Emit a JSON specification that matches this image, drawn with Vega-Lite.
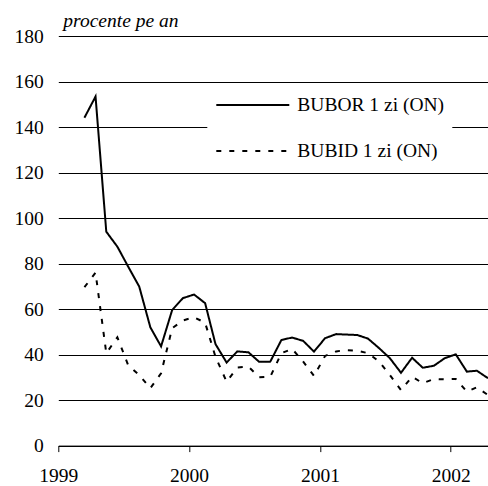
{
  "$schema": "https://vega.github.io/schema/vega-lite/v6.json",
  "width": 429.7,
  "height": 409.6,
  "autosize": "none",
  "padding": {"left": 58.3, "top": 36, "right": 0, "bottom": 40.4},
  "background": "white",
  "title": {
    "text": "procente pe an",
    "anchor": "start",
    "frame": "group",
    "font": "Liberation Serif",
    "fontSize": 19.5,
    "fontStyle": "italic",
    "fontWeight": "normal",
    "color": "black",
    "baseline": "alphabetic",
    "offset": -20.5,
    "dx": 5
  },
  "config": {
    "view": {"stroke": null},
    "font": "Liberation Serif"
  },
  "data": {
    "values": [
      {"date": "1999-03-15", "series": "BUBOR 1 zi (ON)", "value": 144.1},
      {"date": "1999-04-15", "series": "BUBOR 1 zi (ON)", "value": 153.4},
      {"date": "1999-05-15", "series": "BUBOR 1 zi (ON)", "value": 94.0},
      {"date": "1999-06-15", "series": "BUBOR 1 zi (ON)", "value": 87.4},
      {"date": "1999-07-15", "series": "BUBOR 1 zi (ON)", "value": 78.7},
      {"date": "1999-08-15", "series": "BUBOR 1 zi (ON)", "value": 69.9},
      {"date": "1999-09-15", "series": "BUBOR 1 zi (ON)", "value": 52.0},
      {"date": "1999-10-15", "series": "BUBOR 1 zi (ON)", "value": 43.6},
      {"date": "1999-11-15", "series": "BUBOR 1 zi (ON)", "value": 59.6},
      {"date": "1999-12-15", "series": "BUBOR 1 zi (ON)", "value": 64.8},
      {"date": "2000-01-15", "series": "BUBOR 1 zi (ON)", "value": 66.4},
      {"date": "2000-02-15", "series": "BUBOR 1 zi (ON)", "value": 62.6},
      {"date": "2000-03-15", "series": "BUBOR 1 zi (ON)", "value": 44.6},
      {"date": "2000-04-15", "series": "BUBOR 1 zi (ON)", "value": 36.5},
      {"date": "2000-05-15", "series": "BUBOR 1 zi (ON)", "value": 41.4},
      {"date": "2000-06-15", "series": "BUBOR 1 zi (ON)", "value": 41.0},
      {"date": "2000-07-15", "series": "BUBOR 1 zi (ON)", "value": 36.8},
      {"date": "2000-08-15", "series": "BUBOR 1 zi (ON)", "value": 36.9},
      {"date": "2000-09-15", "series": "BUBOR 1 zi (ON)", "value": 46.4},
      {"date": "2000-10-15", "series": "BUBOR 1 zi (ON)", "value": 47.5},
      {"date": "2000-11-15", "series": "BUBOR 1 zi (ON)", "value": 46.0},
      {"date": "2000-12-15", "series": "BUBOR 1 zi (ON)", "value": 41.3},
      {"date": "2001-01-15", "series": "BUBOR 1 zi (ON)", "value": 47.2},
      {"date": "2001-02-15", "series": "BUBOR 1 zi (ON)", "value": 49.0},
      {"date": "2001-03-15", "series": "BUBOR 1 zi (ON)", "value": 48.8},
      {"date": "2001-04-15", "series": "BUBOR 1 zi (ON)", "value": 48.6},
      {"date": "2001-05-15", "series": "BUBOR 1 zi (ON)", "value": 47.0},
      {"date": "2001-06-15", "series": "BUBOR 1 zi (ON)", "value": 42.8},
      {"date": "2001-07-15", "series": "BUBOR 1 zi (ON)", "value": 38.4},
      {"date": "2001-08-15", "series": "BUBOR 1 zi (ON)", "value": 32.0},
      {"date": "2001-09-15", "series": "BUBOR 1 zi (ON)", "value": 38.6},
      {"date": "2001-10-15", "series": "BUBOR 1 zi (ON)", "value": 34.2},
      {"date": "2001-11-15", "series": "BUBOR 1 zi (ON)", "value": 35.1},
      {"date": "2001-12-15", "series": "BUBOR 1 zi (ON)", "value": 38.4},
      {"date": "2002-01-15", "series": "BUBOR 1 zi (ON)", "value": 40.1},
      {"date": "2002-02-15", "series": "BUBOR 1 zi (ON)", "value": 32.5},
      {"date": "2002-03-15", "series": "BUBOR 1 zi (ON)", "value": 32.9},
      {"date": "2002-04-15", "series": "BUBOR 1 zi (ON)", "value": 29.6},
      {"date": "1999-03-15", "series": "BUBID 1 zi (ON)", "value": 69.6},
      {"date": "1999-04-15", "series": "BUBID 1 zi (ON)", "value": 76.0},
      {"date": "1999-05-15", "series": "BUBID 1 zi (ON)", "value": 40.6},
      {"date": "1999-06-15", "series": "BUBID 1 zi (ON)", "value": 47.6},
      {"date": "1999-07-15", "series": "BUBID 1 zi (ON)", "value": 35.4},
      {"date": "1999-08-15", "series": "BUBID 1 zi (ON)", "value": 31.0},
      {"date": "1999-09-15", "series": "BUBID 1 zi (ON)", "value": 25.2},
      {"date": "1999-10-15", "series": "BUBID 1 zi (ON)", "value": 31.8},
      {"date": "1999-11-15", "series": "BUBID 1 zi (ON)", "value": 51.6},
      {"date": "1999-12-15", "series": "BUBID 1 zi (ON)", "value": 55.0},
      {"date": "2000-01-15", "series": "BUBID 1 zi (ON)", "value": 56.4},
      {"date": "2000-02-15", "series": "BUBID 1 zi (ON)", "value": 54.0},
      {"date": "2000-03-15", "series": "BUBID 1 zi (ON)", "value": 39.0},
      {"date": "2000-04-15", "series": "BUBID 1 zi (ON)", "value": 28.1},
      {"date": "2000-05-15", "series": "BUBID 1 zi (ON)", "value": 34.3},
      {"date": "2000-06-15", "series": "BUBID 1 zi (ON)", "value": 34.7},
      {"date": "2000-07-15", "series": "BUBID 1 zi (ON)", "value": 30.0},
      {"date": "2000-08-15", "series": "BUBID 1 zi (ON)", "value": 30.3},
      {"date": "2000-09-15", "series": "BUBID 1 zi (ON)", "value": 40.6},
      {"date": "2000-10-15", "series": "BUBID 1 zi (ON)", "value": 42.5},
      {"date": "2000-11-15", "series": "BUBID 1 zi (ON)", "value": 36.9},
      {"date": "2000-12-15", "series": "BUBID 1 zi (ON)", "value": 30.6},
      {"date": "2001-01-15", "series": "BUBID 1 zi (ON)", "value": 39.4},
      {"date": "2001-02-15", "series": "BUBID 1 zi (ON)", "value": 41.4},
      {"date": "2001-03-15", "series": "BUBID 1 zi (ON)", "value": 42.0},
      {"date": "2001-04-15", "series": "BUBID 1 zi (ON)", "value": 41.7},
      {"date": "2001-05-15", "series": "BUBID 1 zi (ON)", "value": 40.6},
      {"date": "2001-06-15", "series": "BUBID 1 zi (ON)", "value": 36.9},
      {"date": "2001-07-15", "series": "BUBID 1 zi (ON)", "value": 31.0},
      {"date": "2001-08-15", "series": "BUBID 1 zi (ON)", "value": 24.4},
      {"date": "2001-09-15", "series": "BUBID 1 zi (ON)", "value": 30.3},
      {"date": "2001-10-15", "series": "BUBID 1 zi (ON)", "value": 27.4},
      {"date": "2001-11-15", "series": "BUBID 1 zi (ON)", "value": 29.3},
      {"date": "2001-12-15", "series": "BUBID 1 zi (ON)", "value": 29.1},
      {"date": "2002-01-15", "series": "BUBID 1 zi (ON)", "value": 29.3},
      {"date": "2002-02-15", "series": "BUBID 1 zi (ON)", "value": 23.7},
      {"date": "2002-03-15", "series": "BUBID 1 zi (ON)", "value": 25.6},
      {"date": "2002-04-15", "series": "BUBID 1 zi (ON)", "value": 22.2}
    ]
  },
  "mark": {"type": "line", "color": "black", "strokeWidth": 2, "clip": true},
  "encoding": {
    "x": {
      "field": "date",
      "type": "temporal",
      "scale": {
        "type": "utc",
        "domain": [
          {"year": 1999, "month": 1, "date": 1, "utc": true},
          {"year": 2002, "month": 4, "date": 15, "utc": true}
        ]
      },
      "axis": {
        "title": null,
        "values": [
          {"year": 1999, "month": 1, "date": 1, "utc": true},
          {"year": 2000, "month": 1, "date": 1, "utc": true},
          {"year": 2001, "month": 1, "date": 1, "utc": true},
          {"year": 2002, "month": 1, "date": 1, "utc": true}
        ],
        "format": "%Y",
        "grid": false,
        "domainColor": "black",
        "domainWidth": 1,
        "tickColor": "black",
        "tickWidth": 1,
        "tickSize": 6,
        "labelFont": "Liberation Serif",
        "labelFontSize": 19.5,
        "labelColor": "black",
        "labelPadding": 15,
        "labelFlush": false,
        "labelOverlap": false
      }
    },
    "y": {
      "field": "value",
      "type": "quantitative",
      "scale": {"domain": [0, 180], "nice": false},
      "axis": {
        "title": null,
        "values": [0, 20, 40, 60, 80, 100, 120, 140, 160, 180],
        "domain": false,
        "ticks": false,
        "grid": true,
        "gridColor": "black",
        "gridWidth": 1,
        "gridOpacity": 1,
        "labelFont": "Liberation Serif",
        "labelFontSize": 19.5,
        "labelColor": "black",
        "labelPadding": 15
      }
    },
    "strokeDash": {
      "field": "series",
      "type": "nominal",
      "scale": {
        "domain": ["BUBOR 1 zi (ON)", "BUBID 1 zi (ON)"],
        "range": [[1, 0], [5, 8]]
      },
      "legend": {
        "title": null,
        "orient": "none",
        "legendX": 149,
        "legendY": 50,
        "fillColor": "white",
        "padding": 8,
        "symbolType": "stroke",
        "symbolSize": 5329,
        "symbolStrokeWidth": 2,
        "symbolStrokeColor": "black",
        "labelFont": "Liberation Serif",
        "labelFontSize": 19.5,
        "labelColor": "black",
        "labelOffset": 7,
        "clipHeight": 22,
        "rowPadding": 24,
        "labelLimit": 300
      }
    }
  }
}
